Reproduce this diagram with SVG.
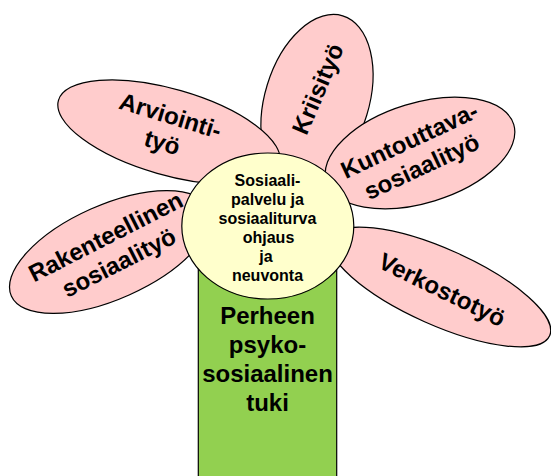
<svg xmlns="http://www.w3.org/2000/svg" width="551" height="476" viewBox="0 0 551 476">
<style>
.petal{fill:#FFCCCC;stroke:#000;stroke-width:1.2}
.center{fill:#FFFFCC;stroke:#000;stroke-width:1.2}
.stem{fill:#92D050;stroke:#000;stroke-width:1.2}
.t{font-family:"Liberation Sans",Arial,sans-serif;font-weight:bold;fill:#000;text-anchor:middle}
.big{font-size:24px}
.small{font-size:16px}
</style>
<rect width="551" height="476" fill="#fff"/>
<g id="petal-kriisityo">
<ellipse class="petal" cx="317" cy="100" rx="88" ry="52" transform="rotate(-73 317 100)"/>
<g transform="translate(318 89) rotate(-67)"><text class="t big" x="0" y="8">Kriisityö</text></g>
</g>
<g id="petal-arviointityo">
<ellipse class="petal" cx="169" cy="132" rx="115" ry="43" transform="rotate(16 169 132)"/>
<g transform="translate(164 137) rotate(17)"><text class="t big" x="0" y="-14">Arviointi-</text><text class="t big" x="0" y="14">työ</text></g>
</g>
<g id="petal-kuntouttava">
<ellipse class="petal" cx="420" cy="153" rx="98" ry="50" transform="rotate(-17 420 153)"/>
<g transform="translate(419 161) rotate(-25)"><text class="t big" x="0" y="-14.5">Kuntouttava-</text><text class="t big" x="0" y="14.5">sosiaalityö</text></g>
</g>
<g id="petal-verkostotyo">
<ellipse class="petal" cx="440" cy="287" rx="120" ry="38" transform="rotate(24 440 287)"/>
<g transform="translate(442 290) rotate(26)"><text class="t big" x="0" y="8">Verkostotyö</text></g>
</g>
<g id="petal-rakenteellinen">
<ellipse class="petal" cx="110" cy="252" rx="108" ry="47" transform="rotate(-24 110 252)"/>
<g transform="translate(116 257) rotate(-27)"><text class="t big" x="0" y="-14.5">Rakenteellinen</text><text class="t big" x="0" y="14.5">sosiaalityö</text></g>
</g>
<g id="stem">
<rect class="stem" x="198.3" y="250" width="138.4" height="240"/>
<text class="t big" x="267.5" y="324">Perheen</text>
<text class="t big" x="267.5" y="353">psyko-</text>
<text class="t big" x="267.5" y="382">sosiaalinen</text>
<text class="t big" x="267.5" y="411">tuki</text>
</g>
<g id="center">
<ellipse class="center" cx="267.8" cy="226" rx="86" ry="73"/>
<text class="t small" x="267.5" y="186">Sosiaali-</text>
<text class="t small" x="267.5" y="205">palvelu ja</text>
<text class="t small" x="267.5" y="224">sosiaaliturva</text>
<text class="t small" x="268.5" y="243">ohjaus</text>
<text class="t small" x="266" y="262">ja</text>
<text class="t small" x="267.5" y="281">neuvonta</text>
</g>
<g id="connectors"/>
</svg>
